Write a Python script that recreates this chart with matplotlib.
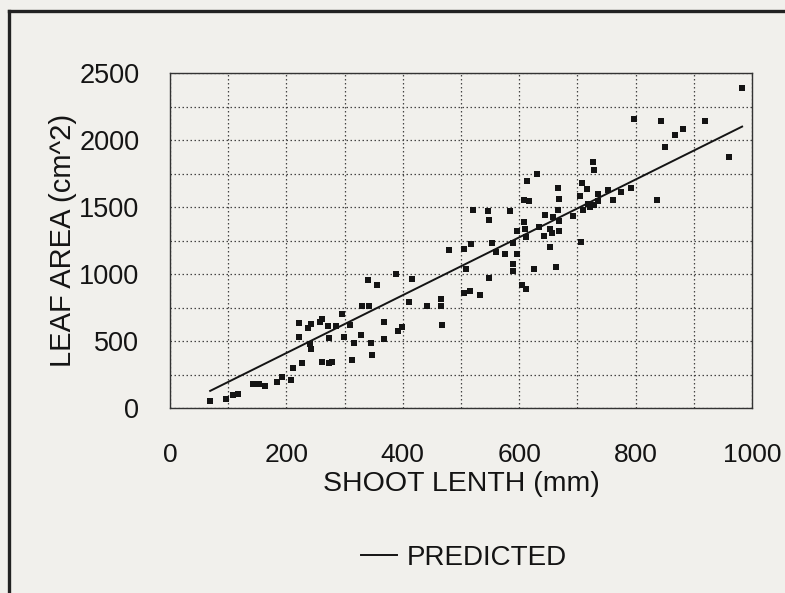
import numpy as np
import matplotlib
matplotlib.use("Agg")
import matplotlib.pyplot as plt
from matplotlib.lines import Line2D

plt.rcParams['font.family'] = ['Liberation Sans', 'DejaVu Sans']

shoot_length = [69, 96, 108, 117, 143, 153, 163, 183, 192, 208, 211, 226, 221, 221, 237,
                243, 241, 243, 257, 262, 272, 273, 261, 273, 279, 286, 296, 299, 309, 312,
                316, 329, 330, 342, 341, 355, 346, 347, 367, 367, 388, 391, 399, 411, 416,
                442, 465, 465, 468, 480, 505, 515, 505, 518, 508, 521,
                532, 547, 548, 548, 554, 560, 575, 584, 589, 589, 589, 597, 597, 604, 611,
                609, 610, 612, 608, 616, 614, 631, 626, 634, 642, 645, 653, 653, 658, 657,
                666, 669, 667, 669, 669, 664, 692, 704, 707, 709, 708, 717, 719, 721, 728,
                727, 729, 736, 736, 753, 761, 775, 792, 798, 836, 843, 851, 868, 881, 919,
                961, 983]
leaf_area = [57, 67, 100, 109, 182, 182, 167, 197, 234, 209, 299, 336, 532, 639, 602,
             629, 480, 445, 642, 669, 617, 525, 343, 336, 343, 614, 701, 532, 624, 358,
             490, 545, 761, 761, 958, 920, 490, 395, 642, 520, 1002, 575, 604, 791, 965,
             764, 818, 766, 622, 1179, 858, 878, 1186, 1224, 1040, 1480,
             848, 1475, 1405, 970, 1236, 1167, 1149, 1470, 1236, 1077, 1027, 1149, 1323, 920, 888,
             1391, 1338, 1281, 1555, 1545, 1694, 1746, 1040, 1356, 1286, 1440, 1204, 1338, 1430, 1308,
             1647, 1560, 1482, 1396, 1323, 1057, 1435, 1585, 1241, 1480, 1679, 1637, 1525, 1500, 1515,
             1841, 1779, 1597, 1545, 1629, 1555, 1614, 1647, 2162, 1557, 2147, 1953, 2037, 2082, 2147,
             1873, 2388]

# regression
slope = 2.158
intercept = -19.0

x_ticks = [0, 200, 400, 600, 800, 1000]
y_ticks = [0, 500, 1000, 1500, 2000, 2500]

paper = '#f1f0ec'
ink = '#141414'
fig = plt.figure(figsize=(7.85, 5.93), dpi=100, facecolor=paper)
ax = fig.add_axes([170/785, 1-408.3/593, 582/785, 335/593], facecolor=paper)

xs = np.array(shoot_length, dtype=float)
ys = np.array(leaf_area, dtype=float)
ax.scatter(xs, ys, marker='s', s=14, color=ink, linewidths=0, zorder=3)

xl = np.sort(xs)
ax.plot(xl, slope * xl + intercept, color=ink, lw=1.4, zorder=4, label='PREDICTED')

ax.set_xlim(0, 1000)
ax.set_ylim(0, 2500)
ax.set_xticks(x_ticks)
ax.set_yticks(y_ticks)
ax.set_xticks(np.arange(100, 1000, 200), minor=True)
ax.set_yticks(np.arange(250, 2500, 500), minor=True)
ax.grid(True, which='both', linestyle=(0, (1.2, 2)), color='#444444', lw=0.9)
ax.set_axisbelow(True)
ax.tick_params(which='both', length=0)
ax.tick_params(axis='x', pad=25, labelsize=19, labelcolor=ink)
ax.tick_params(axis='y', pad=22, labelsize=19.5, labelcolor=ink)
for sp in ax.spines.values():
    sp.set_color('#333333')
    sp.set_linewidth(1.0)

ax.set_xlabel('SHOOT LENTH (mm)', fontsize=20.5, color=ink)
ax.xaxis.set_label_coords(0.5, -(484 - 408.3) / 335)
ax.xaxis.label.set_va('center')
ax.set_ylabel('LEAF AREA (cm^2)', fontsize=21, color=ink)
ax.yaxis.set_label_coords((63 - 170) / 582, 0.5)
ax.yaxis.label.set_va('center')

leg = ax.legend(loc='center', bbox_to_anchor=(464/785, 1-558/593),
                bbox_transform=fig.transFigure, frameon=False, fontsize=20,
                handlelength=1.3, handletextpad=0.35)
for t in leg.get_texts():
    t.set_color(ink)

# outer frame (left and top edges visible)
fig.add_artist(Line2D([9/785, 9/785], [0, 1-11/593], transform=fig.transFigure,
                      color='#222222', lw=2.4))
fig.add_artist(Line2D([9/785, 1], [1-11/593, 1-11/593], transform=fig.transFigure,
                      color='#222222', lw=2.4))

fig.savefig('out.png', dpi=100, facecolor=paper)
